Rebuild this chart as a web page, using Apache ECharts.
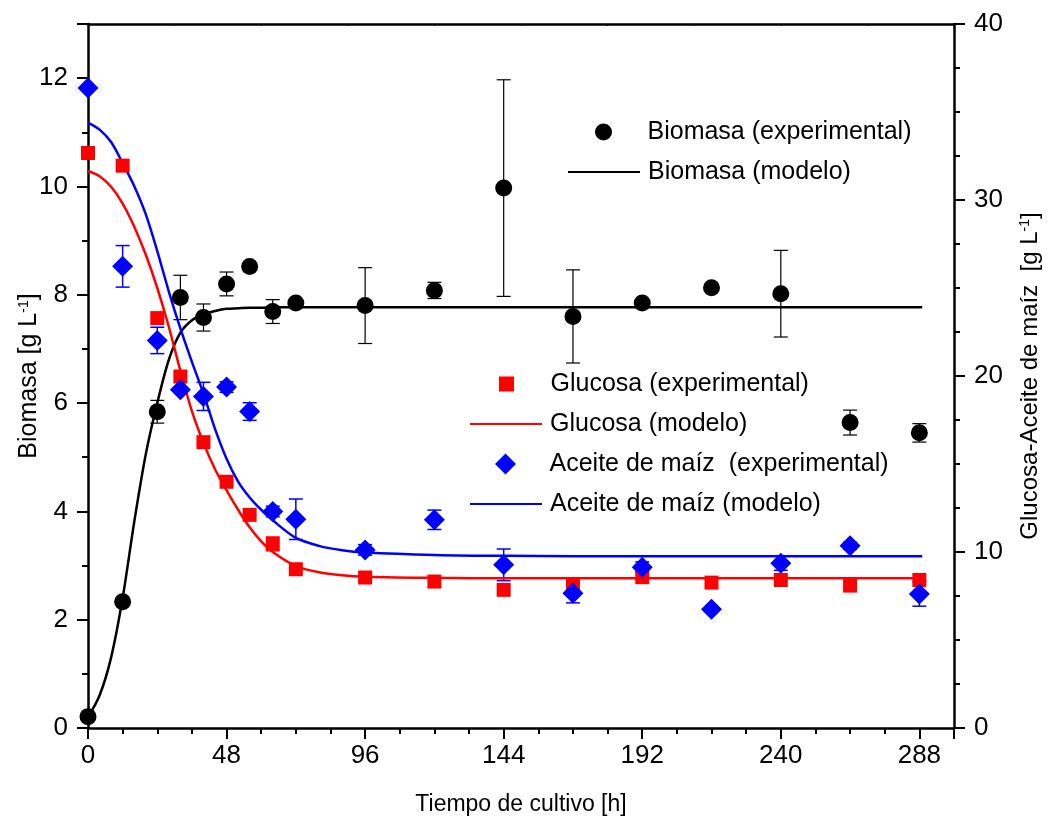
<!DOCTYPE html>
<html><head><meta charset="utf-8">
<script src="https://cdn.jsdelivr.net/npm/echarts@6/dist/echarts.min.js"></script>
<style>html,body{margin:0;padding:0;background:#fff}#c{width:1055px;height:831px}</style>
</head><body><div id="c"></div>
<script>
// ---- data ----
const timeExp    = [0, 12, 24, 32, 40, 48, 56, 64, 72, 96, 120, 144, 168, 192, 216, 240, 264, 288];
const biomasaExp = [0.21, 2.33, 5.84, 7.95, 7.58, 8.20, 8.52, 7.69, 7.85, 7.80, 8.08, 9.97, 7.60, 7.85, 8.13, 8.02, 5.64, 5.45];
const biomasaErr = [0, 0, 0.21, 0.41, 0.25, 0.22, 0, 0.22, 0, 0.70, 0.15, 2.0, 0.86, 0, 0, 0.80, 0.23, 0.17];
const glucosaExp = [32.67, 31.95, 23.29, 19.97, 16.24, 13.99, 12.11, 10.46, 9.02, 8.55, 8.32, 7.85, 8.13, 8.57, 8.26, 8.41, 8.09, 8.41];
const glucosaErr = [0, 0, 0, 0, 0, 0, 0, 0.4, 0, 0, 0, 0, 0, 0, 0, 0, 0, 0];
const aceiteExp  = [36.37, 26.23, 22.02, 19.22, 18.84, 19.37, 17.98, 12.30, 11.86, 10.12, 11.83, 9.27, 7.66, 9.14, 6.75, 9.36, 10.35, 7.62];
const aceiteErr  = [0, 1.18, 0.75, 0, 0.8, 0.3, 0.5, 0.3, 1.15, 0.3, 0.55, 0.9, 0.55, 0.3, 0, 0.4, 0.2, 0.7];

const timeModel    = [0, 4, 8, 12, 16, 20, 24, 28, 32, 36, 40, 44, 48, 52, 56, 60, 64, 72, 80, 88, 96, 120, 144, 192, 240, 289];
const biomasaModel = [0.2, 0.6, 1.3, 2.4, 3.8, 5.05, 6.0, 6.8, 7.3, 7.53, 7.64, 7.7, 7.74, 7.75, 7.76, 7.76, 7.77, 7.77, 7.77, 7.77, 7.77, 7.77, 7.77, 7.77, 7.77, 7.77];
const glucosaModel = [31.65, 31.35, 30.75, 29.8, 28.5, 26.9, 25.0, 22.8, 20.3, 18.0, 16.2, 14.7, 13.5, 12.4, 11.4, 10.6, 10.0, 9.2, 8.85, 8.68, 8.6, 8.53, 8.51, 8.51, 8.51, 8.51];
const aceiteModel  = [34.4, 34.0, 33.3, 32.1, 30.8, 29.2, 27.1, 24.8, 22.7, 20.8, 19.0, 17.0, 15.3, 14.0, 13.1, 12.4, 11.8, 10.8, 10.35, 10.1, 9.97, 9.83, 9.78, 9.76, 9.76, 9.76];

const xTicks = [0, 48, 96, 144, 192, 240, 288];

const FONT = '"Liberation Sans", Arial, sans-serif';

function pairs(xs, ys) { return xs.map((x, i) => [x, ys[i]]); }
function triples(xs, ys, es) { return xs.map((x, i) => [x, ys[i], es[i]]); }

function errBars(data, yIdx, color, width) {
  return {
    type: 'custom', xAxisIndex: 0, yAxisIndex: yIdx, z: 1, silent: true,
    data: data,
    renderItem: function (params, api) {
      const e = api.value(2);
      if (!e) return null;
      const x = api.value(0), v = api.value(1);
      const top = api.coord([x, v + e]);
      const bot = api.coord([x, v - e]);
      const hw = 7;
      const st = { stroke: color, lineWidth: width };
      return { type: 'group', children: [
        { type: 'line', shape: { x1: top[0], y1: top[1], x2: bot[0], y2: bot[1] }, style: st },
        { type: 'line', shape: { x1: top[0] - hw, y1: top[1], x2: top[0] + hw, y2: top[1] }, style: st },
        { type: 'line', shape: { x1: bot[0] - hw, y1: bot[1], x2: bot[0] + hw, y2: bot[1] }, style: st }
      ]};
    }
  };
}

const LINE_ICON = 'path://M0,0 L100,0 L100,3 L0,3 Z';
const SQUARE_ICON = 'path://M0,0 L10,0 L10,10 L0,10 Z';
const DIAMOND_ICON = 'path://M5,0 L10,5 L5,10 L0,5 Z';

function legendRow(name, icon, left, centerY, iconH) {
  return {
    left: left, top: centerY - 14, orient: 'vertical', itemWidth: 72, itemHeight: iconH,
    symbolKeepAspect: true, padding: 0,
    textStyle: { fontFamily: FONT, fontSize: 25, color: '#000', lineHeight: 28, padding: [0, 0, 0, 3] },
    data: [{ name: name, icon: icon }]
  };
}

const chart = echarts.init(document.getElementById('c'));
chart.setOption({
  animation: false,
  backgroundColor: '#fff',
  grid: { left: 88, right: 101, top: 24, bottom: 103 },
  legend: [
    legendRow('Biomasa (experimental)', 'circle', 595, 132, 17),
    legendRow('Biomasa (modelo)', LINE_ICON, 568, 172, 17),
    legendRow('Glucosa (experimental)', SQUARE_ICON, 499, 384, 15),
    legendRow('Glucosa (modelo)', LINE_ICON, 470, 424, 15),
    legendRow('Aceite de maíz  (experimental)', DIAMOND_ICON, 495, 464, 21),
    legendRow('Aceite de maíz (modelo)', LINE_ICON, 470, 504, 15)
  ],
  xAxis: [
    {
      type: 'value', min: 0, max: 300, interval: 48, position: 'bottom',
      name: 'Tiempo de cultivo [h]', nameLocation: 'middle', nameGap: 65, nameMoveOverlap: false,
      nameTextStyle: { fontFamily: FONT, fontSize: 23, color: '#000' },
      axisLine: { show: true, onZero: false, lineStyle: { color: '#000', width: 2.5 } },
      axisTick: { show: true, inside: false, length: 11, lineStyle: { color: '#000', width: 2 } },
      minorTick: { show: true, splitNumber: 4, length: 6, lineStyle: { color: '#000', width: 2 } },
      axisLabel: { show: true, margin: 15, fontFamily: FONT, fontSize: 26, color: '#000',
        formatter: v => (xTicks.indexOf(v) >= 0 ? String(v) : '') },
      splitLine: { show: false }
    },
    {
      type: 'value', min: 0, max: 300, interval: 30, position: 'top',
      axisLine: { show: true, onZero: false, lineStyle: { color: '#000', width: 2.5 } },
      axisTick: { show: true, inside: true, length: 2, lineStyle: { color: '#000', width: 1 } },
      axisLabel: { show: false }, splitLine: { show: false }
    }
  ],
  yAxis: [
    {
      type: 'value', min: 0, max: 13, interval: 2, position: 'left',
      name: 'Biomasa [g L{sup|-1}]', nameLocation: 'middle', nameGap: 46, nameMoveOverlap: false,
      nameTextStyle: { fontFamily: FONT, fontSize: 25, color: '#000',
        rich: { sup: { fontFamily: FONT, fontSize: 14, color: '#000', verticalAlign: 'top', padding: [0, 0, 10, 0] } } },
      axisLine: { show: true, onZero: false, lineStyle: { color: '#000', width: 2.5 } },
      axisTick: { show: true, inside: false, length: 11, lineStyle: { color: '#000', width: 2 } },
      minorTick: { show: true, splitNumber: 2, length: 6, lineStyle: { color: '#000', width: 2 } },
      axisLabel: { margin: 20, fontFamily: FONT, fontSize: 26, color: '#000',
        formatter: v => (v > 12 ? '' : String(v)) },
      splitLine: { show: false }
    },
    {
      type: 'value', min: 0, max: 40, interval: 10, position: 'right',
      name: 'Glucosa-Aceite de maíz  [g L{sup|-1}]', nameLocation: 'middle', nameGap: 64, nameMoveOverlap: false,
      nameTextStyle: { fontFamily: FONT, fontSize: 24, color: '#000',
        rich: { sup: { fontFamily: FONT, fontSize: 14, color: '#000', verticalAlign: 'top', padding: [0, 0, 10, 0] } } },
      axisLine: { show: true, onZero: false, lineStyle: { color: '#000', width: 2.5 } },
      axisTick: { show: true, inside: false, length: 11, lineStyle: { color: '#000', width: 2 } },
      minorTick: { show: true, splitNumber: 4, length: 6, lineStyle: { color: '#000', width: 2 } },
      axisLabel: { margin: 20, fontFamily: FONT, fontSize: 26, color: '#000' },
      splitLine: { show: false }
    }
  ],
  series: [
    errBars(triples(timeExp, biomasaExp, biomasaErr), 0, '#000', 1.2),
    errBars(triples(timeExp, glucosaExp, glucosaErr), 1, '#ff0000', 1.2),
    errBars(triples(timeExp, aceiteExp, aceiteErr), 1, '#0000ff', 1.5),
    {
      name: 'Biomasa (modelo)', type: 'line', xAxisIndex: 0, yAxisIndex: 0, z: 2,
      data: pairs(timeModel, biomasaModel), showSymbol: false, smooth: 0.3,
      lineStyle: { color: '#000', width: 2.5 }, itemStyle: { color: '#000' }
    },
    {
      name: 'Glucosa (modelo)', type: 'line', xAxisIndex: 0, yAxisIndex: 1, z: 2,
      data: pairs(timeModel, glucosaModel), showSymbol: false, smooth: 0.3,
      lineStyle: { color: '#ff0000', width: 2.5 }, itemStyle: { color: '#ff0000' }
    },
    {
      name: 'Aceite de maíz (modelo)', type: 'line', xAxisIndex: 0, yAxisIndex: 1, z: 2,
      data: pairs(timeModel, aceiteModel), showSymbol: false, smooth: 0.3,
      lineStyle: { color: '#0000ff', width: 2.5 }, itemStyle: { color: '#0000ff' }
    },
    {
      name: 'Biomasa (experimental)', type: 'scatter', xAxisIndex: 0, yAxisIndex: 0, z: 4,
      data: pairs(timeExp, biomasaExp), symbol: 'circle', symbolSize: 17,
      itemStyle: { color: '#000', opacity: 1 }
    },
    {
      name: 'Glucosa (experimental)', type: 'scatter', xAxisIndex: 0, yAxisIndex: 1, z: 3,
      data: pairs(timeExp, glucosaExp), symbol: 'rect', symbolSize: 14,
      itemStyle: { color: '#ff0000', opacity: 1 }
    },
    {
      name: 'Aceite de maíz  (experimental)', type: 'scatter', xAxisIndex: 0, yAxisIndex: 1, z: 3,
      data: pairs(timeExp, aceiteExp), symbol: 'diamond', symbolSize: [21, 21],
      itemStyle: { color: '#0000ff', opacity: 1 }
    }
  ]
});
</script>
</body></html>
